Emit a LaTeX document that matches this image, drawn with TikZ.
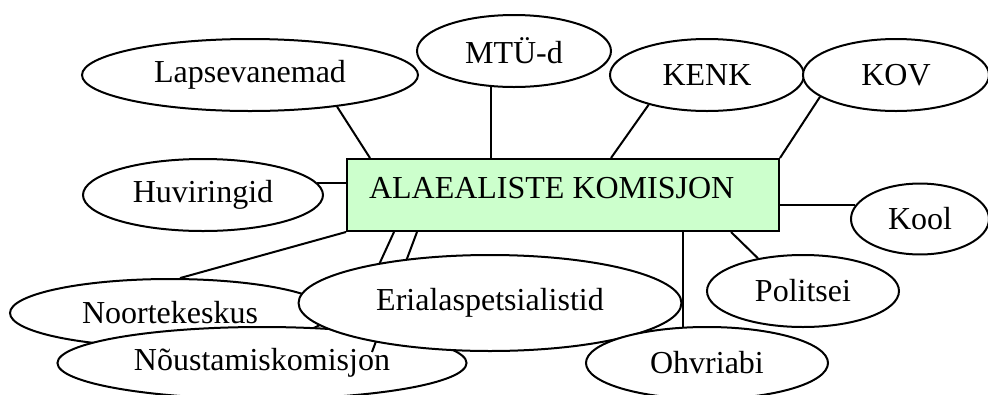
\documentclass[tikz,border=0pt]{standalone}
\usepackage{fontspec}
\setmainfont{Liberation Serif}
\usepackage{xcolor}
\usetikzlibrary{shapes,calc,backgrounds}
\definecolor{komgreen}{RGB}{204,255,204}

\begin{document}
\begin{tikzpicture}[x=0.375pt,y=-0.375pt,line width=0.75pt,font=\fontsize{12}{14}\selectfont]
  \tikzstyle{oval} = [ellipse, draw, fill=white, inner sep=0pt,
  minimum height=27pt] \tikzstyle{kombox} = [rectangle, draw,
  fill=komgreen, minimum width=162pt, minimum height=27pt, inner sep=0pt]
  \useasboundingbox (0,0) rectangle (988,394);
  \node[kombox] (kom) at (563,195) {}; \node[anchor=base west,inner
  sep=0pt] (komtxt) at (368,198) {ALAEALISTE KOMISJON};
  \node[oval,minimum width=126pt] (lap) at (250,75) {Lapsevanemad};
  \node[oval,minimum width=72.75pt] (mtu) at (514,51) {MTÜ-d};
  \node[oval,minimum width=72.75pt] (kenk) at (707,75) {KENK};
  \node[oval,minimum width=69.75pt] (kov) at (896,75) {KOV};
  \node[oval,minimum width=90pt] (huv) at (203,195) {Huviringid};
  \node[oval,minimum width=51.75pt,minimum height=26.6pt] (kool) at
  (920,219) {Kool}; \node[oval,minimum width=72pt] (pol) at (803,291)
  {Politsei};
  \node[oval,minimum width=120pt,minimum height=25.5pt] (noor) at
  (170,313) {Noortekeskus}; \node[oval,minimum width=153.4pt] (nous) at
  (262,363) {Nõustamiskomisjon};
  \coordinate (nousend) at (372,352);
  \draw ($(kom.south west)+(48,0)$) -- (nous.21); \draw ($(kom.south
  west)+(71,0)$) -- (nousend);
  \node[oval,minimum width=143.6pt,minimum height=36pt] (eri) at
  (490,303) {Erialaspetsialistid}; \node[oval,minimum width=90.75pt]
  (ohv) at (707,363) {Ohvriabi};
  \begin{pgfonlayer}{background}
    \begin{scope}[line width=0.75pt]
    \draw (lap.-20) -- ($(kom.north west)+(24,0)$); \draw (mtu.-123) --
    (mtu.-123 |- kom.north); \draw (kenk.-153) -- ($(kom.north
    west)+(265,0)$); \draw (kov.-164) -- (kom.north east);
    \draw (huv.6) -- (huv.6 -| kom.west); \draw (kool.168) -- (kool.168
    -| kom.east); \draw ($(kom.south west)+(385,0)$) -- (pol.144);
    \draw (ohv.124) -- (ohv.124 |- kom.south); \draw (kom.south west) --
    (noor.74);
    \end{scope}
  \end{pgfonlayer}
\end{tikzpicture}
\end{document}
